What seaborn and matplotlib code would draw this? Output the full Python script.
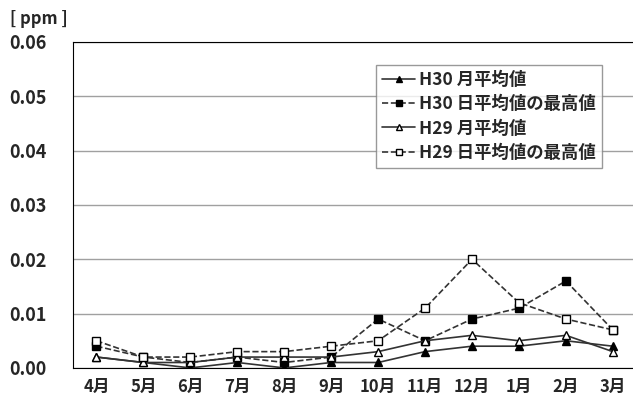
import pandas as pd
import numpy as np
import seaborn as sns
import matplotlib.pyplot as plt
from matplotlib.ticker import FixedLocator, NullFormatter

months = ['4月', '5月', '6月', '7月', '8月', '9月', '10月', '11月', '12月', '1月', '2月', '3月']
h30_month_avg = [0.002, 0.001, 0.000, 0.001, 0.000, 0.001, 0.001, 0.003, 0.004, 0.004, 0.005, 0.004]
h30_daily_max = [0.004, 0.002, 0.001, 0.002, 0.001, 0.002, 0.009, 0.005, 0.009, 0.011, 0.016, 0.007]
h29_month_avg = [0.002, 0.001, 0.001, 0.002, 0.002, 0.002, 0.003, 0.005, 0.006, 0.005, 0.006, 0.003]
h29_daily_max = [0.005, 0.002, 0.002, 0.003, 0.003, 0.004, 0.005, 0.011, 0.020, 0.012, 0.009, 0.007]
series_names = ['H30 月平均値', 'H30 日平均値の最高値', 'H29 月平均値', 'H29 日平均値の最高値']
y_ticks = [0.00, 0.01, 0.02, 0.03, 0.04, 0.05, 0.06]

sns.set_style('white')
plt.rcParams['font.family'] = ['Noto Sans CJK JP', 'DejaVu Sans']

df = pd.DataFrame({
    'month': months * 4,
    'value': h30_month_avg + h30_daily_max + h29_month_avg + h29_daily_max,
    'series': np.repeat(series_names, len(months)),
})

styles = {
    series_names[0]: dict(ls='-', marker='^', mfc='black'),
    series_names[1]: dict(ls='--', marker='s', mfc='black'),
    series_names[2]: dict(ls='-', marker='^', mfc='white'),
    series_names[3]: dict(ls='--', marker='s', mfc='white'),
}

fig = plt.figure(figsize=(6.33, 4.07), dpi=100)
# the plot area runs slightly past the right edge of the picture
ax = fig.add_axes([0.1153, 0.096, 0.89, 0.801])

for name in series_names:
    st = styles[name]
    sns.lineplot(data=df[df['series'] == name], x='month', y='value', ax=ax,
                 sort=False, color='#333333', linewidth=1.2, linestyle=st['ls'],
                 marker=st['marker'], markersize=5.5, markerfacecolor=st['mfc'],
                 markeredgecolor='black', markeredgewidth=1, label=name)

ax.set_xlim(-0.5, len(months) - 0.5)
ax.set_ylim(0, 0.06)
ax.set_yticks(y_ticks)
ax.set_yticklabels([f'{v:.2f}' for v in y_ticks], fontsize=13, fontweight='bold')
ax.yaxis.grid(True, color='#a0a0a0', linewidth=1)
ax.set_axisbelow(True)

ax.set_xticks(range(len(months)))
ax.set_xticklabels(months, fontsize=12, fontweight='bold')
ax.tick_params(axis='x', which='major', length=0, pad=7)
ax.xaxis.set_minor_locator(FixedLocator(np.arange(0.5, len(months) - 0.5, 1)))
ax.xaxis.set_minor_formatter(NullFormatter())
ax.tick_params(axis='x', which='minor', direction='in', length=4, color='black')
ax.tick_params(axis='y', length=0, pad=19)
ax.set_xlabel('')
ax.set_ylabel('')

for side in ['left', 'bottom', 'top', 'right']:
    ax.spines[side].set_color('black')

fig.text(0.016, 0.94, '[ ppm ]', fontsize=12, fontweight='bold')

leg = ax.legend(loc='upper right', bbox_to_anchor=(0.955, 0.955),
                prop={'weight': 'bold', 'size': 12.5}, frameon=True, fancybox=False,
                handlelength=1.9, handletextpad=0.25, borderpad=0.35, labelspacing=0.35,
                markerscale=0.8)
leg.get_frame().set_edgecolor('#808080')
leg.get_frame().set_linewidth(1)

fig.savefig('out.png', dpi=100)
